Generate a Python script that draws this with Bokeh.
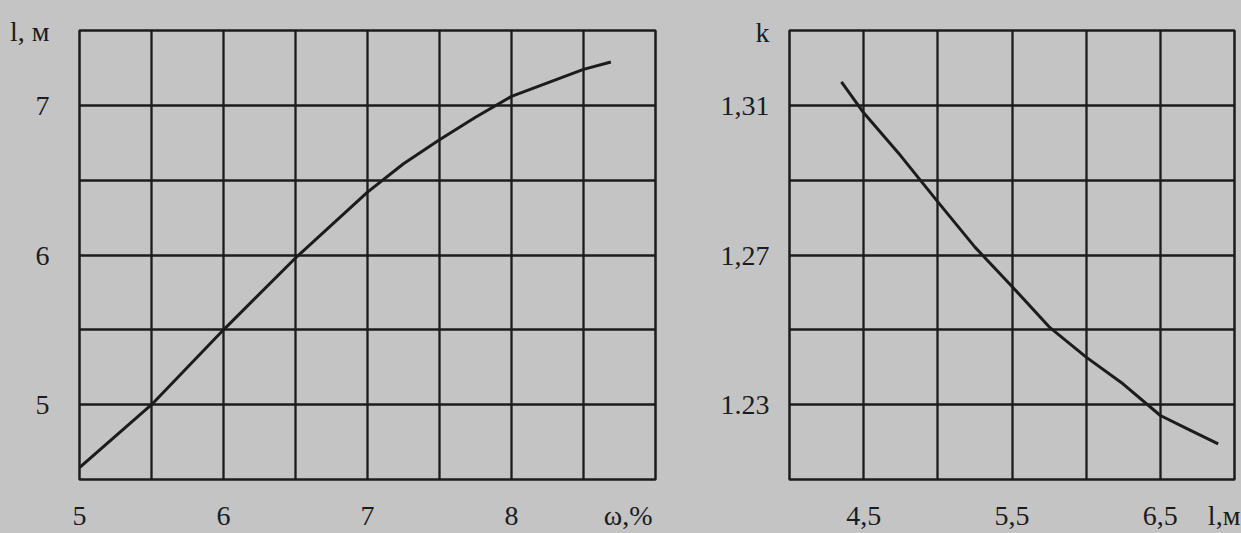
from bokeh.plotting import figure
from bokeh.layouts import row
from bokeh.models import Range1d, FixedTicker
from bokeh.embed import file_html
from bokeh.resources import INLINE

# ---- data ----
moisture = [5.0, 5.5, 6.0, 6.5, 7.0, 7.25, 7.5, 7.75, 8.0, 8.5, 8.69]          # ω, %
length_l = [4.58, 5.0, 5.5, 5.98, 6.42, 6.61, 6.77, 6.92, 7.06, 7.24, 7.29]    # l, м

length_x = [4.35, 4.5, 4.75, 5.0, 5.25, 5.5, 5.75, 6.0, 6.25, 6.5, 6.7, 6.89]  # l, м
coef_k = [1.3163, 1.308, 1.2965, 1.2842, 1.2721, 1.2616, 1.2508, 1.2427, 1.2355, 1.2271, 1.2232, 1.2195]

# tick values and their texts (axis names sit on the last tick of each axis)
left_xticks = [5, 6, 7, 8, 8.81]
left_xlabels = ["5", "6", "7", "8", "ω,%"]
left_yticks = [5, 6, 7, 7.49]
left_ylabels = ["5", "6", "7", "l, м"]
right_xticks = [4.5, 5.5, 6.5, 6.93]
right_xlabels = ["4,5", "5,5", "6,5", "l,м"]
right_yticks = [1.23, 1.27, 1.31, 1.3295]
right_ylabels = ["1.23", "1,27", "1,31", "k"]

left_xgrid = [5.5, 6, 6.5, 7, 7.5, 8, 8.5]
left_ygrid = [5, 5.5, 6, 6.5, 7]
right_xgrid = [4.5, 5, 5.5, 6, 6.5]
right_ygrid = [1.23, 1.25, 1.27, 1.29, 1.31]

BG = "#c4c4c4"
INK = "#1c1c1c"
FONT = "Liberation Serif"


def style(p, xt, xl, yt, yl, xgrid, ygrid, ystand):
    p.background_fill_color = BG
    p.border_fill_color = BG
    p.outline_line_color = INK
    p.outline_line_width = 2.5
    for ax in (p.xaxis[0], p.yaxis[0]):
        ax.axis_line_color = None
        ax.major_tick_line_color = None
        ax.minor_tick_line_color = None
        ax.major_label_text_font = FONT
        ax.major_label_text_font_size = "28px"
        ax.major_label_text_color = INK
    p.xaxis[0].ticker = FixedTicker(ticks=xt)
    p.xaxis[0].major_label_overrides = dict(zip(xt, xl))
    p.xaxis[0].major_label_standoff = 14
    p.yaxis[0].ticker = FixedTicker(ticks=yt)
    p.yaxis[0].major_label_overrides = dict(zip(yt, yl))
    p.yaxis[0].major_label_standoff = ystand
    p.xgrid.ticker = FixedTicker(ticks=xgrid)
    p.ygrid.ticker = FixedTicker(ticks=ygrid)
    for g in (p.xgrid[0], p.ygrid[0]):
        g.grid_line_color = INK
        g.grid_line_width = 2.3
        g.grid_line_alpha = 1.0


p1 = figure(width=717, height=533, output_backend="svg", toolbar_location=None,
            x_range=Range1d(5, 9), y_range=Range1d(4.5, 7.5),
            min_border_left=79, min_border_right=62, min_border_top=30, min_border_bottom=50)
style(p1, left_xticks, left_xlabels, left_yticks, left_ylabels, left_xgrid, left_ygrid, 24)
p1.line(moisture, length_l, line_color=INK, line_width=3)

p2 = figure(width=524, height=533, output_backend="svg", toolbar_location=None,
            x_range=Range1d(4.0, 7.0), y_range=Range1d(1.21, 1.33),
            min_border_left=70, min_border_right=7, min_border_top=27, min_border_bottom=50)
style(p2, right_xticks, right_xlabels, right_yticks, right_ylabels, right_xgrid, right_ygrid, 14)
p2.line(length_x, coef_k, line_color=INK, line_width=3)

layout = row(p1, p2, margin=(0, 0, 0, 0), spacing=0, styles={"background-color": BG})

open("out.html", "w").write(file_html(layout, INLINE))
